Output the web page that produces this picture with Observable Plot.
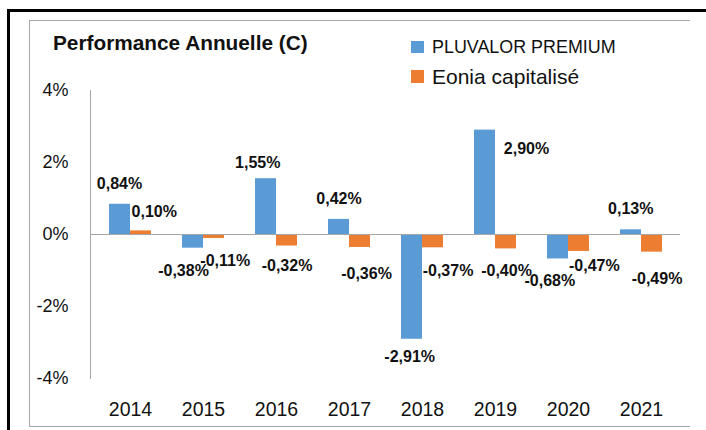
<!DOCTYPE html>
<html>
<head>
<meta charset="utf-8">
<script src="https://cdn.jsdelivr.net/npm/d3@7"></script>
<script src="https://cdn.jsdelivr.net/npm/@observablehq/plot@0.6"></script>
<style>
  html, body { margin: 0; padding: 0; background: #fff; }
  #wrap { position: relative; width: 706px; height: 430px; overflow: hidden; font-family: "Liberation Sans", Arial, sans-serif; color: #111; }
  #outer { position: absolute; left: 7px; top: 9px; width: 760px; height: 480px; border-top: 3px solid #000; border-left: 3px solid #000; box-sizing: border-box; }
  #inner { position: absolute; left: 29px; top: 20px; width: 661px; height: 407px; border-top: 1px solid #a6a6a6; border-left: 1px solid #a6a6a6; border-bottom: 1px solid #a6a6a6; box-sizing: border-box; }
  #title { position: absolute; left: 53px; top: 32.5px; font-size: 20.8px; line-height: 20.8px; font-weight: bold; white-space: nowrap; }
  .sw { position: absolute; left: 411px; width: 13px; }
  .lg { position: absolute; left: 432px; white-space: nowrap; }
  #chart { position: absolute; left: 0; top: 0; }
</style>
</head>
<body>
<div id="wrap">
  <div id="outer"></div>
  <div id="inner"></div>
  <div id="chart"></div>
  <div id="title">Performance Annuelle (C)</div>
  <div class="sw" style="top:41px;height:12px;background:#5b9bd5"></div>
  <div class="lg" id="lg1" style="top:38px;font-size:17.9px;line-height:18px;"></div>
  <div class="sw" style="top:70px;height:13px;background:#ed7d31"></div>
  <div class="lg" id="lg2" style="top:66px;font-size:21px;line-height:21px;"></div>
</div>
<script>
// ---- data ----
const years = ["2014", "2015", "2016", "2017", "2018", "2019", "2020", "2021"];
const seriesNames = ["PLUVALOR PREMIUM", "Eonia capitalisé"];
const pluvalor = [0.84, -0.38, 1.55, 0.42, -2.91, 2.90, -0.68, 0.13];
const eonia = [0.10, -0.11, -0.32, -0.36, -0.37, -0.40, -0.47, -0.49];
const yTicks = [-4, -2, 0, 2, 4];

// ---- layout (label nudges in px, relative to year band centre / bar end) ----
const blueLabelOffsets = [[-11, -20.5], [-20, 23], [-18.7, -16], [-10.5, -20.5], [-12.8, 18], [31, 18.7], [-18.7, 21.5], [-10.75, -21]];
const orangeLabelOffsets = [[23.8, -18.7], [21.75, 22], [10.5, 20], [17, 26.5], [25.5, 22.7], [11, 21.6], [25.8, 14.8], [15.5, 26.7]];
const colors = ["#5b9bd5", "#ed7d31"];

document.getElementById("lg1").textContent = seriesNames[0];
document.getElementById("lg2").textContent = seriesNames[1];

const rowsA = years.map((y, i) => ({year: y, value: pluvalor[i]}));
const rowsB = years.map((y, i) => ({year: y, value: eonia[i]}));
const fmt = v => v.toFixed(2).replace(".", ",") + "%";

const width = 706, height = 430, mL = 90, mR = 26;
const pIn = 0.43, pOut = 0.217;
const step = (width - mL - mR) / (years.length - pIn + 2 * pOut);
const half = step * (1 - pIn) / 2;

const labelMarks = [];
rowsA.forEach((r, i) => labelMarks.push(Plot.text([r], {
  x: "year", y: "value", text: d => fmt(d.value),
  dx: blueLabelOffsets[i][0], dy: blueLabelOffsets[i][1],
  fontSize: 16, fontWeight: "bold", fill: "#111"
})));
rowsB.forEach((r, i) => labelMarks.push(Plot.text([r], {
  x: "year", y: "value", text: d => fmt(d.value),
  dx: orangeLabelOffsets[i][0], dy: orangeLabelOffsets[i][1],
  fontSize: 16, fontWeight: "bold", fill: "#111"
})));

const chart = Plot.plot({
  width, height,
  marginLeft: mL, marginRight: mR, marginTop: 90, marginBottom: 52,
  style: {fontFamily: "Liberation Sans, Arial, sans-serif", background: "transparent", color: "#111", overflow: "visible"},
  x: {type: "band", domain: years, paddingInner: pIn, paddingOuter: pOut, align: 0.5, label: null},
  y: {domain: [-4, 4], label: null},
  marks: [
    Plot.axisY({ticks: yTicks, tickSize: 0, tickPadding: 22, tickFormat: d => d + "%", fontSize: 18, fill: "#111", label: null}),
    Plot.axisX({tickSize: 0, tickPadding: 24, fontSize: 19.5, fill: "#111", label: null}),
    Plot.frame({anchor: "left", stroke: "#a6a6a6"}),
    Plot.barY(rowsA, {x: "year", y: "value", fill: colors[0], insetRight: half}),
    Plot.barY(rowsB, {x: "year", y: "value", fill: colors[1], insetLeft: half}),
    Plot.ruleY([0], {stroke: "#a6a6a6", strokeWidth: 1.2}),
    ...labelMarks
  ]
});
document.getElementById("chart").appendChild(chart);
</script>
</body>
</html>
